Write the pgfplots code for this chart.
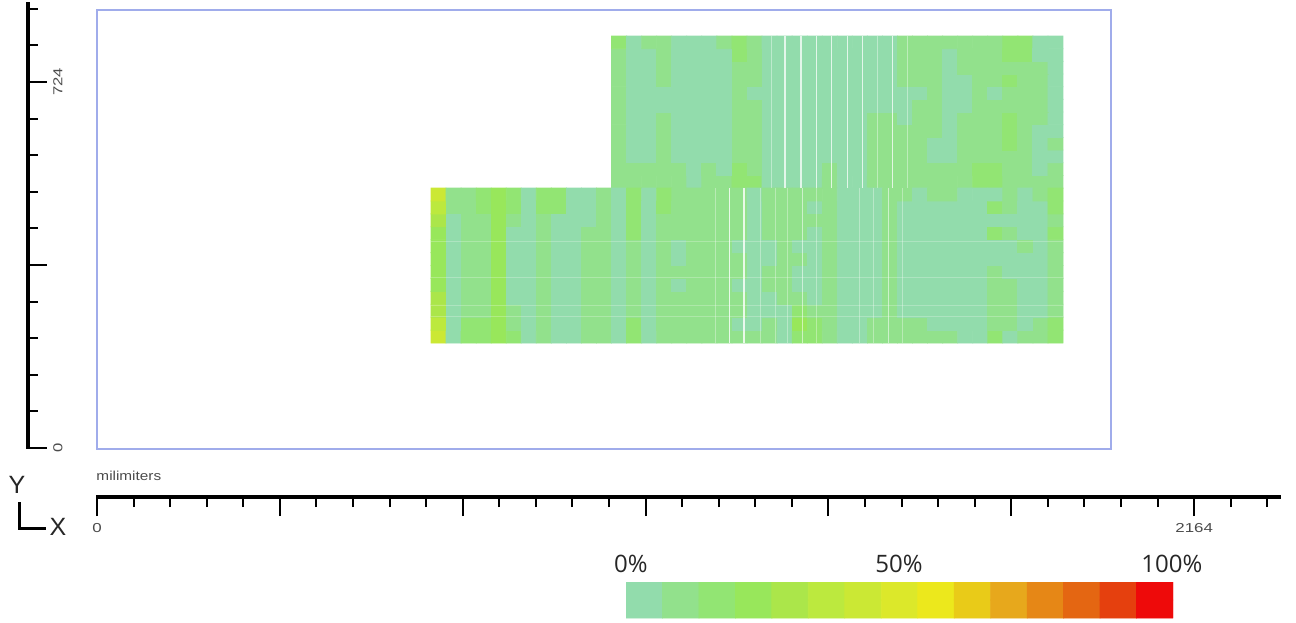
\documentclass[border=0pt]{standalone}
\usepackage{pgfplots}
\usepackage{fontspec}
\setmainfont{Liberation Sans}
\newfontfamily\barfont{Open Sans}
\pgfplotsset{compat=1.18}
\pgfplotsset{
  colormap={load}{
    rgb255=(146,220,172) rgb255=(146,225,140) rgb255=(146,229,115) rgb255=(152,231,91)
    rgb255=(171,230,74) rgb255=(188,233,62) rgb255=(203,232,52) rgb255=(220,232,42)
    rgb255=(236,232,28) rgb255=(233,203,24) rgb255=(231,168,28) rgb255=(230,135,22)
    rgb255=(228,102,18) rgb255=(229,64,14) rgb255=(238,10,10)
  },
  colormap access=piecewise constant,
  point meta min=0, point meta max=100,
}
\definecolor{boxblue}{RGB}{160,172,235}
\definecolor{lab}{RGB}{75,75,75}
\begin{document}
\begin{tikzpicture}[x=1pt,y=1pt]
\path[use as bounding box] (0,0) rectangle (648,311);

% main plot: heat map blocks in millimetres
\begin{axis}[
  at={(48.5pt,86.5pt)}, anchor=south west, scale only axis,
  width=507pt, height=219.5pt,
  xmin=0, xmax=2000, ymin=0, ymax=865.9,
  ticks=none, axis line style={boxblue, line width=0.55pt},
  axis on top,
]
% upper block, 30 x 12, bottom row first
\addplot[matrix plot*, mesh/cols=30, mesh/rows=12, point meta=explicit, draw=none]
 table[header=false, row sep=crcr, x expr={1014.9+29.68*(mod(\coordindex,30)+0.5)}, y expr={514.6+25*(floor((\coordindex+0.5)/30)+0.5)}, meta index=0] {
10\\10\\10\\10\\10\\3\\10\\10\\17\\17\\3\\3\\3\\3\\10\\3\\3\\10\\10\\10\\10\\10\\10\\10\\17\\17\\10\\10\\10\\10\\
10\\10\\10\\10\\10\\3\\10\\3\\17\\10\\3\\3\\3\\3\\10\\3\\3\\10\\10\\10\\10\\10\\10\\10\\17\\17\\10\\10\\3\\10\\
10\\3\\3\\10\\3\\3\\3\\3\\10\\10\\3\\3\\3\\3\\3\\3\\3\\10\\10\\10\\10\\3\\3\\10\\10\\10\\10\\10\\3\\3\\
10\\3\\3\\10\\3\\3\\3\\3\\10\\10\\3\\3\\3\\3\\3\\3\\3\\10\\10\\10\\10\\3\\3\\10\\10\\10\\17\\10\\3\\10\\
10\\3\\3\\10\\3\\3\\3\\3\\10\\10\\3\\3\\3\\3\\3\\3\\3\\10\\10\\10\\10\\10\\3\\10\\10\\10\\17\\10\\3\\3\\
10\\3\\3\\10\\3\\3\\3\\3\\10\\10\\3\\3\\3\\3\\3\\3\\3\\10\\10\\3\\10\\10\\3\\10\\10\\10\\17\\10\\10\\3\\
10\\3\\3\\3\\3\\3\\3\\3\\10\\10\\3\\3\\3\\3\\3\\3\\3\\3\\3\\3\\10\\10\\3\\3\\10\\10\\10\\10\\10\\3\\
10\\3\\3\\3\\3\\3\\3\\3\\10\\3\\3\\3\\3\\3\\3\\3\\3\\3\\3\\3\\3\\10\\3\\3\\10\\3\\10\\10\\10\\3\\
10\\3\\3\\10\\3\\3\\3\\3\\10\\10\\3\\3\\3\\3\\3\\3\\3\\3\\3\\10\\10\\10\\3\\3\\10\\10\\17\\10\\10\\3\\
10\\3\\3\\10\\3\\3\\3\\3\\10\\10\\3\\3\\3\\3\\3\\3\\3\\3\\3\\10\\10\\10\\3\\10\\10\\10\\10\\10\\10\\3\\
10\\3\\3\\10\\3\\3\\3\\3\\17\\10\\3\\3\\3\\3\\3\\3\\3\\3\\3\\10\\10\\10\\3\\10\\10\\10\\17\\17\\3\\3\\
17\\3\\10\\10\\3\\3\\3\\10\\17\\10\\3\\3\\3\\3\\3\\3\\3\\3\\3\\10\\10\\10\\10\\10\\10\\10\\17\\17\\3\\3\\
};
% lower block, 42 x 12, bottom row first
\addplot[matrix plot*, mesh/cols=42, mesh/rows=12, point meta=explicit, draw=none]
 table[header=false, row sep=crcr, x expr={658.8+29.68*(mod(\coordindex,42)+0.5)}, y expr={209+25.48*(floor((\coordindex+0.5)/42)+0.5)}, meta index=0] {
43\\3\\17\\17\\23\\17\\3\\10\\3\\3\\10\\10\\3\\17\\3\\10\\10\\10\\10\\10\\10\\10\\10\\3\\17\\17\\10\\3\\3\\10\\10\\10\\10\\10\\10\\3\\3\\17\\3\\10\\10\\17\\
37\\3\\17\\17\\23\\10\\3\\10\\3\\3\\10\\10\\3\\17\\3\\10\\10\\10\\10\\10\\3\\3\\10\\3\\23\\17\\10\\3\\3\\10\\10\\10\\10\\3\\3\\3\\3\\10\\10\\3\\10\\17\\
30\\3\\10\\10\\23\\10\\3\\10\\3\\3\\10\\10\\3\\10\\3\\10\\10\\10\\10\\10\\10\\3\\3\\3\\17\\10\\10\\3\\3\\3\\10\\3\\3\\3\\3\\3\\3\\10\\10\\3\\3\\10\\
30\\3\\10\\10\\23\\3\\3\\10\\3\\3\\10\\10\\3\\10\\3\\10\\10\\10\\10\\10\\10\\3\\3\\10\\10\\3\\10\\3\\3\\3\\10\\3\\3\\3\\3\\3\\3\\10\\10\\3\\3\\10\\
23\\3\\10\\10\\23\\3\\3\\10\\3\\3\\10\\10\\3\\10\\3\\10\\3\\10\\10\\10\\3\\3\\10\\10\\3\\3\\10\\3\\3\\3\\10\\3\\3\\3\\3\\3\\3\\10\\10\\3\\3\\10\\
23\\3\\10\\10\\23\\3\\3\\10\\3\\3\\10\\10\\3\\10\\3\\10\\10\\10\\10\\10\\10\\3\\10\\10\\3\\3\\10\\3\\3\\3\\10\\3\\3\\3\\3\\3\\3\\10\\3\\3\\3\\10\\
23\\3\\10\\10\\23\\3\\3\\10\\3\\3\\10\\10\\3\\10\\3\\10\\3\\10\\10\\10\\10\\3\\3\\10\\10\\3\\10\\3\\3\\3\\10\\3\\3\\3\\3\\3\\3\\3\\3\\3\\3\\10\\
23\\3\\10\\10\\23\\3\\3\\10\\3\\3\\10\\10\\3\\10\\3\\10\\3\\10\\10\\10\\3\\3\\3\\10\\3\\3\\10\\3\\3\\3\\10\\3\\3\\3\\3\\3\\3\\3\\3\\10\\3\\10\\
23\\3\\10\\10\\23\\3\\3\\10\\3\\3\\10\\10\\3\\17\\3\\10\\10\\10\\10\\10\\10\\3\\10\\10\\10\\3\\10\\3\\3\\3\\10\\3\\3\\3\\3\\3\\3\\17\\10\\3\\3\\17\\
30\\3\\10\\10\\23\\10\\3\\10\\3\\3\\3\\10\\3\\17\\3\\10\\10\\10\\10\\10\\10\\3\\10\\10\\10\\10\\10\\3\\3\\3\\10\\3\\3\\3\\3\\3\\3\\3\\3\\3\\3\\10\\
37\\10\\10\\17\\23\\17\\3\\17\\17\\3\\3\\10\\3\\17\\3\\17\\10\\10\\10\\10\\10\\3\\10\\10\\10\\3\\10\\3\\3\\3\\10\\3\\3\\3\\3\\3\\3\\17\\10\\3\\3\\17\\
43\\10\\10\\17\\23\\17\\3\\17\\17\\3\\3\\10\\3\\17\\3\\17\\10\\10\\10\\10\\10\\3\\10\\10\\10\\10\\10\\3\\3\\3\\10\\10\\3\\10\\10\\3\\3\\3\\10\\3\\10\\17\\
};
% pale seams: strong ones in the upper block
\pgfplotsinvokeforeach{1357,1388.6,1419.5,1449.1,1479.9,1509.5,1569.4}{
  \addplot[white, opacity=0.75, line width=0.55pt, forget plot] coordinates {(#1,514.8) (#1,814.6)};
}
\pgfplotsinvokeforeach{1330.8,1539,1598.2}{
  \addplot[white, opacity=0.4, line width=0.5pt, forget plot] coordinates {(#1,514.8) (#1,814.6)};
}
% lower block
\pgfplotsinvokeforeach{1247.1,1276.1}{
  \addplot[white, opacity=0.8, line width=0.55pt, forget plot] coordinates {(#1,209) (#1,514.8)};
}
\pgfplotsinvokeforeach{1391.9,1560.2}{
  \addplot[white, opacity=0.55, line width=0.5pt, forget plot] coordinates {(#1,209) (#1,514.8)};
}
\pgfplotsinvokeforeach{1219,1307.7,1337.3,1362.9,1420.1,1504.9,1530.6,1589.7}{
  \addplot[white, opacity=0.35, line width=0.5pt, forget plot] coordinates {(#1,209) (#1,514.8)};
}
\pgfplotsinvokeforeach{408.9,337.3,284,260.9}{
  \addplot[white, opacity=0.25, line width=0.5pt, forget plot] coordinates {(658.8,#1) (1905.3,#1)};
}
\end{axis}

% y ruler
\begin{axis}[
  at={(13pt,87pt)}, anchor=south west, scale only axis,
  width=1pt, height=223pt,
  xmin=0, xmax=1, ymin=0, ymax=882.3,
  axis y line=right, axis x line=none, clip=false,
  axis line style={-, black},
  ytick={0,362,724},
  yticklabels={0,,724},
  minor ytick={72.4,144.8,217.2,289.6,434.4,506.8,579.2,651.6,796.4,868.8},
  major tick length=9.5pt, minor tick length=5pt,
  tick align=outside,
  major tick style={black, line width=1pt},
  minor tick style={black, line width=1pt},
  yticklabel style={rotate=90, xscale=1.28, anchor=north, font=\fontsize{6.5}{7}\selectfont, text=lab, inner sep=1pt, yshift=-2pt},
]
\addplot[black, line width=1.6pt, forget plot] coordinates {(1,-1) (1,882.3)};
\end{axis}

% x ruler
\begin{axis}[
  at={(48.5pt,62.5pt)}, anchor=south west, scale only axis,
  width=592pt, height=5pt,
  xmin=0, xmax=2335.3, ymin=0, ymax=1,
  axis x line=bottom, axis y line=none, clip=false,
  axis line style={-, black},
  xtick={0,360.67,721.33,1082,1442.67,1803.33,2164},
  xticklabels={0,,,,,,2164},
  minor xtick={72.13,144.27,216.4,288.53,432.8,504.93,577.07,649.2,793.47,865.6,937.73,1009.87,1154.13,1226.27,1298.4,1370.53,1514.8,1586.93,1659.07,1731.2,1875.47,1947.6,2019.73,2091.87,2236.13,2308.27},
  major tick length=9.5pt, minor tick length=5pt,
  tick align=outside,
  major tick style={black, line width=1pt},
  minor tick style={black, line width=1pt},
  xticklabel style={xscale=1.3, font=\fontsize{6.5}{7}\selectfont, text=lab, inner sep=1pt, yshift=-2.5pt},
]
\addplot[black, line width=1.6pt, forget plot] coordinates {(-1,0) (2335.3,0)};
\end{axis}

% colour scale
\begin{axis}[
  at={(313pt,2pt)}, anchor=south west, scale only axis,
  width=273.5pt, height=18pt,
  xmin=0, xmax=100, ymin=0, ymax=1,
  axis x line=top, axis y line=none,
  axis line style={draw=none},
  xtick={0.9,49.9,99.8}, xticklabels={0\%,50\%,100\%},
  tick style={draw=none},
  xticklabel style={font=\barfont\fontsize{12}{14}\selectfont, text=black!85, yshift=-1pt},
]
\addplot[matrix plot*, mesh/cols=15, mesh/rows=2, point meta=explicit, draw=none] coordinates {
 (3.33,0.25)[3.33] (10,0.25)[10] (16.67,0.25)[16.67] (23.33,0.25)[23.33] (30,0.25)[30] (36.67,0.25)[36.67] (43.33,0.25)[43.33] (50,0.25)[50] (56.67,0.25)[56.67] (63.33,0.25)[63.33] (70,0.25)[70] (76.67,0.25)[76.67] (83.33,0.25)[83.33] (90,0.25)[90] (96.67,0.25)[96.67]
 (3.33,0.75)[3.33] (10,0.75)[10] (16.67,0.75)[16.67] (23.33,0.75)[23.33] (30,0.75)[30] (36.67,0.75)[36.67] (43.33,0.75)[43.33] (50,0.75)[50] (56.67,0.75)[56.67] (63.33,0.75)[63.33] (70,0.75)[70] (76.67,0.75)[76.67] (83.33,0.75)[83.33] (90,0.75)[90] (96.67,0.75)[96.67]
};
\end{axis}

% text and axis icon
\node[anchor=west, inner sep=0pt, font=\fontsize{6.5}{7}\selectfont, text=lab, xscale=1.18] at (48,73) {milimiters};
\node[font=\fontsize{12.5}{14}\selectfont, text=black!85] at (8.5,68.5) {Y};
\node[font=\fontsize{12.5}{14}\selectfont, text=black!85] at (29,47.5) {X};
\draw[black, line width=1.5pt] (9.5,60) -- (9.5,47) -- (23,47);
\end{tikzpicture}
\end{document}
